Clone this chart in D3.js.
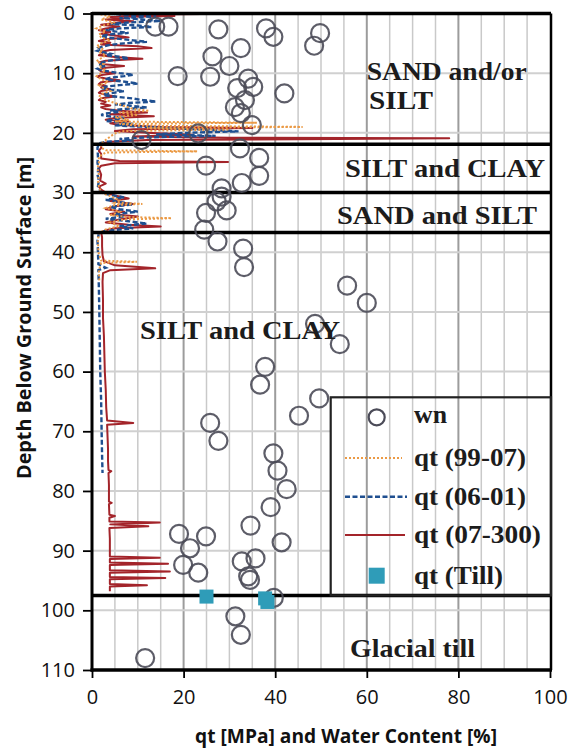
<!DOCTYPE html>
<html>
<head>
<meta charset="utf-8">
<script src="https://cdn.jsdelivr.net/npm/d3@7/dist/d3.min.js"></script>
<style>
  html, body { margin: 0; padding: 0; background: #fff; }
  svg { display: block; }
</style>
</head>
<body>
<svg id="chart" width="574" height="751"></svg>
<script>
// ---------------- DATA ----------------
const xTicks = [0, 20, 40, 60, 80, 100];
const yTicks = [0, 10, 20, 30, 40, 50, 60, 70, 80, 90, 100, 110];
const layerBoundaries = [21.9, 30.0, 36.7, 97.5];

// water content wn [%] : [depth m, wn]
const wn = [
  [2.2, 13.8], [2.2, 16.7], [2.65, 27.6], [2.5, 38.0], [3.9, 39.6], [3.3, 49.8], [5.4, 48.5],
  [5.8, 32.5], [7.2, 26.3], [8.8, 30.0], [10.5, 18.7], [10.6, 25.8], [10.9, 34.1], [12.3, 35.2],
  [12.5, 31.7], [13.4, 42.0], [14.5, 33.4], [15.7, 31.2], [16.7, 32.5], [18.7, 34.9], [21.2, 10.8],
  [20.1, 23.2], [22.6, 32.3], [24.2, 36.5], [25.5, 24.9], [27.2, 36.5], [28.4, 32.7], [29.3, 28.3],
  [30.7, 28.3], [31.5, 27.2], [33.0, 29.4], [33.4, 24.9], [36.2, 24.5], [38.2, 27.4], [39.4, 33.0],
  [42.5, 33.2], [45.6, 55.7], [48.5, 60.0], [52.0, 48.7], [55.4, 54.1], [59.2, 37.8], [62.2, 36.7],
  [64.5, 49.6], [67.4, 45.2], [68.6, 25.8], [71.6, 27.6], [73.7, 39.6], [76.6, 40.5], [79.7, 42.5],
  [82.7, 39.0], [85.8, 34.6], [87.2, 19.0], [87.6, 24.9], [88.6, 41.4], [89.6, 21.4], [91.3, 35.7],
  [91.8, 32.7], [92.4, 19.9], [93.7, 23.2], [94.3, 34.1], [94.9, 34.5], [97.9, 39.7], [101.0, 31.3],
  [104.1, 32.5], [108.0, 11.6]
];

// qt in till [MPa] : [depth m, qt]
const qtTill = [[97.7, 25.0], [98.0, 37.8], [98.6, 38.3]];

// qt (99-07) : [depth m, qt MPa]
const qt9907 = [
  [0,1],[0.5,4],[1,2],[1.5,5],[2,2.5],[2.5,1],[3,3],[3.5,1.5],[4,2],[4.5,4],[5,2],[5.5,1],[6,2.5],
  [6.5,1.5],[7,3],[7.5,2],[8,1],[8.5,2.5],[9,1.5],[9.5,3],[10,2],[10.5,1],[11,2],[11.5,3.5],[12,1.5],
  [12.5,2.5],[13,4],[13.5,2],[14,1.5],[14.5,3],[15,5],[15.5,7],[16,9],[16.3,12.5],[16.6,6],[17,10],
  [17.4,5],[17.8,8],[18.1,5],[18.3,36],[18.5,6],[18.8,10],[19.0,46],[19.2,12],[19.45,30],[19.7,7],
  [20.1,5],[20.6,4],[21.2,3],[21.8,2],[22.5,2],[22.9,3],[23.1,23],[23.3,3],[24,1.5],[25,1.5],[26,1.2],
  [27,1.5],[28,1.3],[29,1.5],[30,2],[30.6,4],[31.3,6],[31.7,5],[31.9,11],[32.1,5],[32.6,3],[33.2,6],
  [33.8,4],[34.1,8],[34.3,17.4],[34.5,7],[35,4],[35.6,6],[36.2,3],[36.8,1.5],[38,1.3],[40,1.4],
  [41.4,2],[41.6,9.8],[41.8,2],[43,1.5],[45,1.6]
];

// qt (06-01)
const qt0601 = [
  [0,2],[0.25,9],[0.5,14],[0.75,6],[1.0,11],[1.25,15],[1.5,8],[1.75,4],[2.0,10],[2.25,13],[2.5,6],
  [2.75,3],[3.0,5],[3.25,8],[3.5,4],[3.75,2],[4.0,3],[4.25,6],[4.5,9],[4.75,12],[5.0,7],[5.25,4],
  [5.5,2.5],[5.75,1.5],[6.0,2],[6.25,1.2],[6.5,2.5],[6.75,4],[7.0,3],[7.25,6],[7.5,8],[7.75,5],[8.0,3],
  [8.25,2],[8.5,1.5],[8.75,3],[9.0,2],[9.25,1.2],[9.5,2],[9.75,4],[10.0,6],[10.25,9],[10.5,7],[10.75,4],
  [11.0,3],[11.25,5],[11.5,8],[11.75,10],[12.0,6],[12.25,3],[12.5,2],[12.75,4],[13.0,7],[13.25,5],
  [13.5,2.5],[13.75,3],[14.0,6],[14.25,9],[14.5,11],[14.75,14],[15.0,8],[15.25,5],[15.5,9],[15.75,12],
  [16.0,7],[16.25,4],[16.5,6],[16.75,3],[17.0,2],[17.25,4],[17.5,7],[17.75,5],[18.0,3],[18.25,6],
  [18.5,9],[18.75,5],[19.0,12],[19.25,18],[19.5,26],[19.75,32],[20.0,20],[20.25,14],[20.5,27],
  [20.75,12],[21.0,6],[21.25,9],[21.5,3],[21.75,1.5],[22.5,1.2],[24,1.3],[25,1.2],[26,1.4],[27,1.2],
  [28,1.5],[29,1.3],[30,2],[30.4,4],[30.8,7],[31.2,3],[31.6,6],[32,9],[32.4,4],[32.8,6],[33.2,10],
  [33.6,5],[34,7],[34.4,3],[34.8,8],[35.2,12],[35.6,6],[36.0,9],[36.4,3],[36.8,1.5],[38,1.2],[42,1.4],
  [42.6,3],[43,1.4],[46,1.5],[50,1.6],[55,1.7],[60,1.8],[65,2],[70,2.1],[74,2.2],[77,2.3]
];

// qt (07-300)
const qt07300 = [
  [0,3],[0.1,24],[0.2,6],[0.4,18],[0.6,4],[0.8,7],[1.0,3],[1.3,9],[1.6,5],[1.9,2],[2.2,6],[2.5,3],
  [2.8,1.5],[3.1,4],[3.4,2],[3.7,5],[4.0,8],[4.3,3],[4.6,1.5],[4.9,4],[5.2,2],[5.5,10],[5.8,13],
  [6.1,4],[6.4,2],[6.7,3],[7.0,1.5],[7.3,5],[7.6,11],[7.9,3],[8.2,1.5],[8.5,2.5],[8.8,7],[9.1,3],
  [9.4,1.5],[9.7,2],[10.0,5],[10.3,2],[10.6,1.2],[10.9,3],[11.2,6],[11.5,2],[11.8,1.5],[12.1,3],
  [12.4,2],[12.7,4],[13.0,2],[13.3,1.5],[13.6,3],[13.9,5],[14.2,2],[14.5,1.5],[14.8,3],[15.1,2],
  [15.4,4],[15.7,2],[16.0,3],[16.3,6],[16.6,12],[16.9,4],[17.2,13.5],[17.5,5],[17.8,3],[18.1,8],
  [18.4,4],[18.7,6],[19.0,15],[19.2,35],[19.4,9],[19.7,5],[20.0,12],[20.3,22],[20.6,9],[20.8,30],
  [20.9,78],[21.05,45],[21.2,12],[21.5,4],[21.8,2],
  [22.5,2],[23,1.5],[23.5,2],[24.3,2],[24.7,6],[24.9,29.7],[25.1,5],[25.5,2],[26,1.5],[27,2],[28,1.8],
  [28.5,3],[29,1.5],[29.5,2],[30,3],[30.5,5],[31,8],[31.4,4],[31.9,9],[32.3,5],[32.8,3],[33.2,7],
  [33.6,4],[34.0,10],[34.5,6],[35.0,3],[35.4,8],[35.7,15],[36.0,5],[36.3,3],[36.7,2],[37.5,2.2],
  [39,2.2],[40.5,2.3],[41.5,2.6],[42.2,5],[42.7,13.8],[43.0,4],[43.5,2.4],[45,2.3],[48,2.4],[51,2.4],
  [54,2.6],[57,2.7],[60,2.8],[63,3.0],[66,3.1],[68.2,3.3],[68.6,9],[68.9,3.3],[71,3.4],[73,3.5],
  [75,3.5],[76.5,3.6],[76.7,4.2],[77,3.6],[79,3.7],[81.8,3.7],[82,4.3],[82.2,3.7],[84,3.8],[84.2,5],
  [84.5,3.8],[85.1,3.8],[85.3,14.8],[85.6,4],[85.9,12.3],[86.2,3.8],[88,3.9],[90,3.9],[91,3.9],
  [91.2,14.8],[91.4,3.9],[92,3.9],[92.2,16.6],[92.4,3.9],[93.3,3.9],[93.5,17],[93.7,3.9],[94.4,3.9],
  [94.6,16],[94.8,3.9],[95.6,3.9],[95.8,12],[96.0,3.9],[96.8,3.9]
];

const layerLabels = ["SAND and/or", "SILT", "SILT and CLAY", "SAND and SILT", "SILT and CLAY", "Glacial till"];
const legendLabels = ["wn", "qt (99-07)", "qt (06-01)", "qt (07-300)", "qt (Till)"];

// ---------------- CHART ----------------
const svg = d3.select("#chart");
const x = d3.scaleLinear().domain([0, 100]).range([92, 550]);
const y = d3.scaleLinear().domain([0, 110]).range([13.5, 670]);

const colors = { red: "#a3242a", blue: "#1f4f90", orange: "#eb9a45", circle: "#4b4b58", till: "#2f9cb8" };

// vertical grid every 5
const g = svg.append("g");
g.selectAll("line.vg").data(d3.range(5, 100, 5)).join("line")
  .attr("x1", d => x(d)).attr("x2", d => x(d))
  .attr("y1", y(0)).attr("y2", y(110))
  .attr("stroke", d => d % 20 === 0 ? "#9c9c9c" : "#c9c9c9")
  .attr("stroke-width", d => d % 20 === 0 ? 2 : 1.5);

// horizontal grid every 10
g.selectAll("line.hg").data(d3.range(10, 110, 10)).join("line")
  .attr("x1", x(0)).attr("x2", d => (d > 65 && d < 97) ? 330.7 : x(100))
  .attr("y1", d => y(d)).attr("y2", d => y(d))
  .attr("stroke", "#d0d0d0").attr("stroke-width", 2);

// profiles
const line = d3.line().x(d => x(d[1])).y(d => y(d[0]));
svg.append("path").datum(qt07300).attr("d", line)
  .attr("fill", "none").attr("stroke", colors.red).attr("stroke-width", 2).attr("stroke-linejoin", "round");
svg.append("path").datum(qt0601).attr("d", line)
  .attr("fill", "none").attr("stroke", colors.blue).attr("stroke-width", 2.4).attr("stroke-dasharray", "5,2.5");
svg.append("path").datum(qt9907).attr("d", line)
  .attr("fill", "none").attr("stroke", colors.orange).attr("stroke-width", 2).attr("stroke-dasharray", "2,2");

// layer boundaries
svg.selectAll("line.lb").data(layerBoundaries).join("line")
  .attr("x1", x(0)).attr("x2", x(100) + 1)
  .attr("y1", d => y(d)).attr("y2", d => y(d))
  .attr("stroke", "#000").attr("stroke-width", 3.5);

// frame
svg.append("line").attr("x1", x(0)).attr("x2", x(100) + 1).attr("y1", y(0)).attr("y2", y(0))
  .attr("stroke", "#000").attr("stroke-width", 3.5);
svg.append("line").attr("x1", x(100) + 1).attr("x2", x(100) + 1).attr("y1", y(0)).attr("y2", y(110))
  .attr("stroke", "#000").attr("stroke-width", 2.5);

// wn circles
svg.selectAll("circle.wn").data(wn).join("circle")
  .attr("cx", d => x(d[1])).attr("cy", d => y(d[0])).attr("r", 9)
  .attr("fill", "none").attr("stroke", colors.circle).attr("stroke-width", 2.2).attr("stroke-opacity", 0.9);

// till squares
svg.selectAll("rect.till").data(qtTill).join("rect")
  .attr("x", d => x(d[1]) - 7).attr("y", d => y(d[0]) - 7).attr("width", 14).attr("height", 14)
  .attr("fill", colors.till);

// axes
const fontSans = "'Open Sans', 'DejaVu Sans', sans-serif";
const yAxis = svg.append("g").attr("transform", `translate(${x(0)},0)`)
  .call(d3.axisLeft(y).tickValues(yTicks).tickSize(9).tickPadding(8).tickFormat(d3.format("d")));
const xAxis = svg.append("g").attr("transform", `translate(0,${y(110)})`)
  .call(d3.axisBottom(x).tickValues(xTicks).tickSize(8).tickPadding(12).tickFormat(d3.format("d")));
[yAxis, xAxis].forEach(a => {
  a.select(".domain").remove();
  a.selectAll(".tick line").attr("stroke", "#000").attr("stroke-width", 1.8);
  a.selectAll(".tick text").attr("font-family", fontSans).attr("font-size", 20).attr("fill", "#111");
});
svg.append("line").attr("x1", x(0)).attr("x2", x(0)).attr("y1", y(0) - 1.5).attr("y2", y(110) + 1.5)
  .attr("stroke", "#000").attr("stroke-width", 3);
svg.append("line").attr("x1", x(0) - 1.5).attr("x2", x(100) + 2).attr("y1", y(110)).attr("y2", y(110))
  .attr("stroke", "#000").attr("stroke-width", 3.5);

// axis titles
svg.append("text").text("qt [MPa] and Water Content [%]")
  .attr("x", 346).attr("y", 743).attr("text-anchor", "middle")
  .attr("font-family", fontSans).attr("font-weight", "bold").attr("font-size", 19).attr("fill", "#111")
  .attr("textLength", 302).attr("lengthAdjust", "spacingAndGlyphs");
svg.append("text").text("Depth Below Ground Surface [m]")
  .attr("transform", "translate(31,318) rotate(-90)").attr("text-anchor", "middle")
  .attr("font-family", fontSans).attr("font-weight", "bold").attr("font-size", 19).attr("fill", "#111")
  .attr("textLength", 322).attr("lengthAdjust", "spacingAndGlyphs");

// layer labels
const fontSerif = "'Liberation Serif', 'Times New Roman', serif";
const layerPos = [
  { x: 366.7, y: 80, w: 160 }, { x: 369, y: 108.5, w: 64 }, { x: 345, y: 176.5, w: 200 },
  { x: 337, y: 223.5, w: 200 }, { x: 140, y: 338.5, w: 200 }, { x: 350, y: 657, w: 125 }
];
svg.selectAll("text.layer").data(layerLabels).join("text")
  .text(d => d)
  .attr("x", (d, i) => layerPos[i].x).attr("y", (d, i) => layerPos[i].y)
  .attr("textLength", (d, i) => layerPos[i].w).attr("lengthAdjust", "spacingAndGlyphs")
  .attr("font-family", fontSerif).attr("font-weight", "bold").attr("font-size", 25).attr("fill", "#1c1c1c");

// legend
const lg = svg.append("g");
lg.append("rect").attr("x", 330.7).attr("y", 397.3).attr("width", x(100) + 1 - 330.7).attr("height", y(97.5) - 397.3)
  .attr("fill", "none").attr("stroke", "#222").attr("stroke-width", 2.2);
const rowY = [417.3, 458, 496.7, 535, 575.7];
const legW = [33, 112, 112, 127, 89];
lg.append("circle").attr("cx", 376.7).attr("cy", rowY[0]).attr("r", 8)
  .attr("fill", "none").attr("stroke", colors.circle).attr("stroke-width", 2.2);
lg.append("line").attr("x1", 345).attr("x2", 402).attr("y1", rowY[1]).attr("y2", rowY[1])
  .attr("stroke", colors.orange).attr("stroke-width", 2).attr("stroke-dasharray", "2,2");
lg.append("line").attr("x1", 345).attr("x2", 407).attr("y1", rowY[2]).attr("y2", rowY[2])
  .attr("stroke", colors.blue).attr("stroke-width", 2.4).attr("stroke-dasharray", "5,2.5");
lg.append("line").attr("x1", 345).attr("x2", 405).attr("y1", rowY[3]).attr("y2", rowY[3])
  .attr("stroke", colors.red).attr("stroke-width", 2);
lg.append("rect").attr("x", 376.7 - 8).attr("y", rowY[4] - 8).attr("width", 16).attr("height", 16)
  .attr("fill", colors.till);
lg.selectAll("text.leg").data(legendLabels).join("text")
  .text(d => d)
  .attr("x", 414).attr("y", (d, i) => rowY[i] + (i === 0 ? 6 : 8))
  .attr("textLength", (d, i) => legW[i]).attr("lengthAdjust", "spacingAndGlyphs")
  .attr("font-family", fontSerif).attr("font-weight", "bold").attr("font-size", 25).attr("fill", "#1c1c1c");
</script>
</body>
</html>
